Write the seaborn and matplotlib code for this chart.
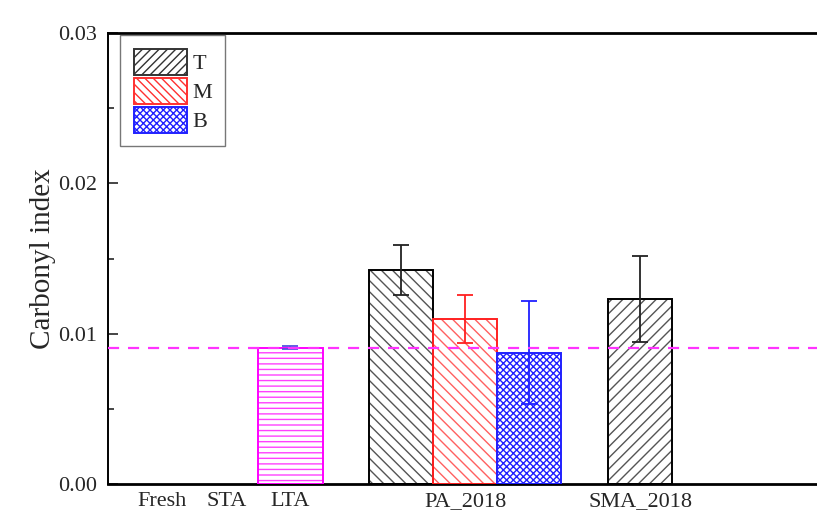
import numpy as np
import pandas as pd
import matplotlib.pyplot as plt
import seaborn as sns
from matplotlib.patches import Patch

# tick categories
categories = ['Fresh', 'STA', 'LTA', 'PA_2018', 'SMA_2018']

# bars: sample, layer, value, error
samples = ['LTA', 'PA_2018', 'PA_2018', 'PA_2018', 'SMA_2018']
layers = ['LTA', 'T', 'M', 'B', 'T']
values = [0.00907, 0.01424, 0.01098, 0.00874, 0.01229]
errors = [0.00012, 0.00167, 0.00160, 0.00340, 0.00287]
reference_value = 0.00907

df = pd.DataFrame({'sample': samples, 'layer': layers, 'value': values, 'err': errors})

sns.set_theme(style='white')
plt.rcParams['font.family'] = ['Liberation Serif', 'DejaVu Serif']
plt.rcParams['hatch.linewidth'] = 1.0

# layout: category centres (bar width = 1 unit)
centers = dict(zip(categories, [0.85, 1.85, 2.85, 5.58, 8.31]))
offsets = {'T': -1.0, 'M': 0.0, 'B': 1.0, 'LTA': 0.0}

styles = {
    'T': dict(edge='black', hatch_color='#555555', err='#222222'),
    'M': dict(edge='#ff2020', hatch_color='#ff6060', err='#ff2020'),
    'B': dict(edge='#2020ff', hatch_color='#2020ff', err='#2020ff'),
    'LTA': dict(edge='#ff00ff', hatch_color='#ff40ff', err='#5050e0'),
}
hatches = {('PA_2018', 'T'): '\\\\\\', ('SMA_2018', 'T'): '///',
           ('PA_2018', 'M'): '\\\\\\', ('PA_2018', 'B'): 'xxxxx',
           ('LTA', 'LTA'): '---'}

fig = plt.figure(figsize=(8.17, 5.19), dpi=100)
ax = fig.add_axes([108 / 817, 35 / 519, 1.01 - 108 / 817, 451 / 519])

for _, row in df.iterrows():
    st = styles[row['layer']]
    x = centers[row['sample']] + (offsets[row['layer']] if row['sample'] == 'PA_2018' else 0.0)
    ax.bar(x, row['value'], width=1.0, facecolor='white', edgecolor=st['hatch_color'],
           hatch=hatches[(row['sample'], row['layer'])], linewidth=0, zorder=2)
    ax.bar(x, row['value'], width=1.0, facecolor='none', edgecolor=st['edge'],
           linewidth=1.4, zorder=3)
    ax.errorbar(x, row['value'], yerr=row['err'], fmt='none', ecolor=st['err'],
                elinewidth=1.3, capsize=6, capthick=1.3, zorder=4)

ax.axhline(reference_value, color='#ff33ff', linestyle=(0, (5, 4)), linewidth=1.6, zorder=5)

ax.set_xlim(0, 11.2)
ax.set_ylim(0, 0.03)
ax.set_xticks([centers[c] for c in categories])
ax.set_xticklabels(categories, fontsize=16)
ax.set_yticks([0.0, 0.01, 0.02, 0.03])
ax.set_yticklabels(['0.00', '0.01', '0.02', '0.03'], fontsize=16)
ax.set_yticks([0.005, 0.015, 0.025], minor=True)
ax.tick_params(axis='x', length=0, pad=6)
ax.tick_params(axis='y', which='major', direction='in', length=7, width=1.2, left=True, pad=8)
ax.tick_params(axis='y', which='minor', direction='in', length=4, width=1.2, left=True)
ax.set_ylabel('Carbonyl index', fontsize=21, labelpad=1)

for s in ['left', 'bottom', 'top', 'right']:
    ax.spines[s].set_color('black')
ax.spines['left'].set_linewidth(1.4)
ax.spines['bottom'].set_linewidth(2.0)
ax.spines['top'].set_linewidth(2.0)

handles = [
    Patch(facecolor='white', edgecolor='#333333', hatch='////', linewidth=1.4, label='T'),
    Patch(facecolor='white', edgecolor='#ff3030', hatch='\\\\\\\\', linewidth=1.4, label='M'),
    Patch(facecolor='white', edgecolor='#2020ff', hatch='xxxxx', linewidth=1.4, label='B'),
]
leg = ax.legend(handles=handles, loc='upper left', bbox_to_anchor=(0.017, 0.995),
                fontsize=16, frameon=True, fancybox=False, edgecolor='#555555',
                handlelength=2.4, handleheight=1.45, handletextpad=0.25,
                labelspacing=0.12, borderpad=0.6, borderaxespad=0)
leg.get_frame().set_linewidth(1.0)

fig.savefig('out.png', dpi=100)
plt.close(fig)
